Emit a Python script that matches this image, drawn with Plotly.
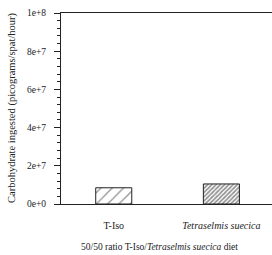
import plotly.graph_objects as go

categories = ["T-Iso", "<i>Tetraselmis suecica</i>"]
values = [8.5e6, 1.05e7]
y_ticks = [0, 2e7, 4e7, 6e7, 8e7, 1e8]
y_tick_labels = ["0e+0", "2e+7", "4e+7", "6e+7", "8e+7", "1e+8"]
pattern_sizes = [8, 3]
pattern_solidity = [0.15, 0.55]

fig = go.Figure()
fig.add_trace(go.Bar(
    x=[0, 1], y=values, width=0.335,
    marker=dict(color="white", line=dict(color="#222", width=1),
                pattern=dict(shape="/", size=pattern_sizes, solidity=pattern_solidity,
                             fgcolor="#222", bgcolor="white")),
    showlegend=False,
))

font = "Liberation Serif"
fig.update_layout(
    width=272, height=255,
    margin=dict(l=61, r=0, t=13, b=51),
    paper_bgcolor="white", plot_bgcolor="white",
    font=dict(family=font, size=9, color="#222"),
    xaxis=dict(range=[-0.49, 1.47], tickvals=[0, 1], ticktext=categories,
               showline=True, linecolor="#222", linewidth=1, mirror=True,
               ticks="", showgrid=False, zeroline=False, automargin=False,
               tickfont=dict(size=10), ticklabelstandoff=12),
    yaxis=dict(range=[0, 1e8], tickvals=y_ticks, ticktext=y_tick_labels,
               showline=True, linecolor="#222", linewidth=1,
               ticks="outside", ticklen=6, tickcolor="#222", tickwidth=1,
               minor=dict(tickmode="linear", tick0=0, dtick=4e6, ticks="outside",
                          ticklen=3, tickcolor="#222", tickwidth=1),
               showgrid=False, zeroline=False, automargin=False,
               tickfont=dict(size=9.5), ticklabelstandoff=6),
    annotations=[
        dict(text="Carbohydrate ingested (picograms/spat/hour)", textangle=-90,
             x=12, y=108, xref="paper", yref="paper", showarrow=False,
             xanchor="center", yanchor="middle", font=dict(size=10.5)),
        dict(text="50/50 ratio T-Iso/<i>Tetraselmis suecica</i> diet",
             x=159, y=247, xref="paper", yref="paper", showarrow=False,
             xanchor="center", yanchor="middle", font=dict(size=9.5)),
    ],
)
# convert pixel positions to paper coordinates
pw, ph = 272 - 61, 255 - 13 - 51
for a in fig.layout.annotations:
    a.x = (a.x - 61) / pw
    a.y = (255 - 51 - a.y) / ph

fig.write_html("out.html", config={"displayModeBar": False},
               post_script="document.body.style.margin='0';document.body.style.overflow='hidden';")
